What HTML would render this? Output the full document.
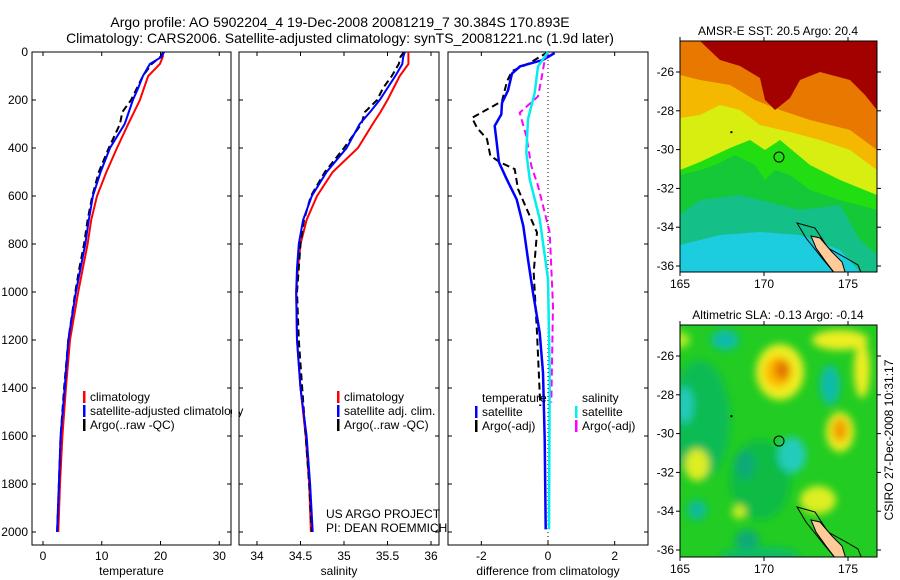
<!DOCTYPE html>
<html><head><meta charset="utf-8"><style>
html,body{margin:0;padding:0;background:#fff;}
svg{display:block;font-family:"Liberation Sans",sans-serif;}
</style></head><body>
<svg id="fig" width="900" height="580" viewBox="0 0 900 580" xmlns="http://www.w3.org/2000/svg">
<defs>
<filter id="blur" x="-30%" y="-30%" width="160%" height="160%"><feGaussianBlur stdDeviation="4"/></filter>
<clipPath id="clipTop"><rect x="680" y="41" width="197" height="231"/></clipPath>
<clipPath id="clipBot"><rect x="680" y="325" width="197" height="232"/></clipPath>
</defs>
<text x="340" y="27" font-size="14" text-anchor="middle">Argo profile: AO 5902204_4 19-Dec-2008 20081219_7 30.384S 170.893E</text>
<text x="340" y="43" font-size="14" text-anchor="middle">Climatology: CARS2006. Satellite-adjusted climatology: synTS_20081221.nc (1.9d later)</text>
<g id="plots"></g>
<text transform="translate(893,440) rotate(-90)" font-size="12" text-anchor="middle">CSIRO 27-Dec-2008 10:31:17</text>
</svg>
<script>
// ---- data ----
const depth = [0,20,50,100,150,200,250,300,400,500,600,700,800,900,1000,1200,1400,1600,1800,2000];
const tempClim = [20.4,20.4,19.9,17.9,17.2,16.5,15.5,14.5,12.6,10.8,9.2,8.2,7.6,6.8,6.0,4.6,3.9,3.3,2.9,2.6];
const tempSat = [20.6,20.2,18.2,17.0,16.2,15.3,14.6,13.9,11.4,9.8,8.5,7.8,7.2,6.4,5.6,4.3,3.7,3.0,2.7,2.4];
const tempArgo = [20.5,20.0,18.5,17.0,16.0,15.0,13.5,13.1,11.2,9.5,8.4,7.6,7.0,6.2,5.5,4.3,3.6,3.0,2.7,2.4];
const salClim = [35.74,35.74,35.74,35.64,35.57,35.5,35.42,35.33,35.16,34.87,34.69,34.57,34.5,34.47,34.45,34.46,34.5,34.56,34.6,34.62];
const salSat = [35.7,35.68,35.67,35.59,35.5,35.41,35.3,35.18,35.03,34.8,34.63,34.53,34.48,34.46,34.45,34.46,34.5,34.57,34.61,34.64];
const salArgo = [35.69,35.65,35.63,35.55,35.45,35.38,35.24,35.2,35.0,34.78,34.62,34.54,34.5,34.48,34.46,34.48,34.52,34.56,34.6,34.63];
const dTempSatDepth = [4,33,60,90,160,212,260,308,363,460,530,614,725,864,1003,1170,1336,1614,1989];
const dTempSat = [0.2,-0.15,-0.84,-1.08,-1.2,-1.38,-1.4,-1.6,-1.55,-1.47,-1.24,-0.94,-0.74,-0.6,-0.45,-0.25,-0.15,-0.1,-0.07];
const dTempArgoDepth = [0,45,80,122,205,274,316,363,432,460,488,571,752,919,1170,1475];
const dTempArgo = [0,-0.54,-1.08,-1.23,-1.38,-2.28,-2.13,-1.83,-1.73,-1.43,-1.0,-0.9,-0.33,-0.43,-0.33,-0.23];
const dSalSatDepth = [0,60,170,280,418,530,696,946,1336,1989];
const dSalSat = [0,-0.3,-0.4,-0.6,-0.65,-0.55,-0.25,0,0.05,0.03];
const dSalArgoDepth = [0,33,115,185,253,350,474,557,752,1058,1461];
const dSalArgo = [0,-0.1,-0.2,-0.3,-0.85,-0.65,-0.5,-0.3,0.05,0.15,0.1];
const depthTicks = [0,200,400,600,800,1000,1200,1400,1600,1800,2000];
const tempTicks = [0,10,20,30];
const salTicks = [34,34.5,35,35.5,36];
const diffTicks = [-2,0,2];
const lonTicks = [165,170,175];
const latTicks = [-26,-28,-30,-32,-34,-36];
const argoLon = 170.893, argoLat = -30.384;

const NS='http://www.w3.org/2000/svg';
const root=document.getElementById('plots');
function mk(tag,attrs,parent){const e=document.createElementNS(NS,tag);for(const k in attrs)e.setAttribute(k,attrs[k]);(parent||root).appendChild(e);return e;}
const yTop=52, yBot=545;
function yD(d){return 52+d*0.24;}
const panels=[
 {x0:32,x1:231,v0:-1.87,v1:32.0,ticks:tempTicks,label:'temperature',name:'temperature'},
 {x0:239,x1:439,v0:33.793,v1:36.092,ticks:salTicks,label:'salinity',name:'salinity'},
 {x0:448,x1:648,v0:-3.0,v1:3.0,ticks:diffTicks,label:'difference from climatology',name:'difference'}
];
function sx(p,v){return p.x0+(v-p.v0)/(p.v1-p.v0)*(p.x1-p.x0);}
function line(p,vals,deps,color,dash,name,w){
  const pts=vals.map((v,i)=>sx(p,v).toFixed(1)+','+yD(deps[i]).toFixed(1)).join(' ');
  const l=mk('polyline',{points:pts,fill:'none',stroke:color,'stroke-width':w||2,'stroke-dasharray':dash||'none'});
  
  
}
panels.forEach((p,pi)=>{
  const g=mk('rect',{x:p.x0,y:yTop,width:p.x1-p.x0,height:yBot-yTop,fill:'#fff',stroke:'#000','stroke-width':1});
  
  
  depthTicks.forEach(d=>{
    const y=yD(d);
    mk('line',{x1:p.x0,x2:p.x0+4,y1:y,y2:y,stroke:'#000'});
    mk('line',{x1:p.x1,x2:p.x1-4,y1:y,y2:y,stroke:'#000'});
    if(pi===0){const t=mk('text',{x:p.x0-4,y:y+4,'font-size':12,'text-anchor':'end'});t.textContent=d;
      
      }
  });
  p.ticks.forEach(v=>{
    const x=sx(p,v);
    mk('line',{x1:x,x2:x,y1:yBot,y2:yBot-4,stroke:'#000'});
    mk('line',{x1:x,x2:x,y1:yTop,y2:yTop+4,stroke:'#000'});
    const t=mk('text',{x:x,y:yBot+15,'font-size':12,'text-anchor':'middle'});t.textContent=v;
    
    
  });
  const lab=mk('text',{x:(p.x0+p.x1)/2,y:yBot+30,'font-size':12,'text-anchor':'middle'});lab.textContent=p.label;
  
  
});
const P=panels;
line(P[0],tempClim,depth,'#f00',null,'temp-climatology-line');
line(P[0],tempArgo,depth,'#000','7,4','temp-argo-line');
line(P[0],tempSat,depth,'#00f',null,'temp-satellite-line');
line(P[1],salClim,depth,'#f00',null,'sal-climatology-line');
line(P[1],salArgo,depth,'#000','7,4','sal-argo-line');
line(P[1],salSat,depth,'#00f',null,'sal-satellite-line');
mk('line',{x1:sx(P[2],0),x2:sx(P[2],0),y1:yTop,y2:yBot,stroke:'#000','stroke-dasharray':'1,3'});
line(P[2],dTempArgo,dTempArgoDepth,'#000','7,4','diff-temp-argo-line');
line(P[2],dTempSat,dTempSatDepth,'#00f',null,'diff-temp-satellite-line',2.5);
line(P[2],dSalArgo,dSalArgoDepth,'#f0f','7,4','diff-sal-argo-line');
line(P[2],dSalSat,dSalSatDepth,'#0ee',null,'diff-sal-satellite-line',2.5);

function legend(x,y,items,name){
  items.forEach((it,i)=>{
    const yy=y+i*14;
    if(it[0]) mk('rect',{x:x,y:yy-6,width:2.5,height:12,fill:it[0]});
    const t=mk('text',{x:x+7,y:yy+4,'font-size':12});t.textContent=it[1];
    
    
  });
}
legend(83,397,[['#f00','climatology'],['#00f','satellite-adjusted climatology'],['#000','Argo(..raw -QC)']],'temp-legend');
mk('rect',{x:232,y:380,width:6.5,height:60,fill:'#fff'});
mk('line',{x1:239,x2:239,y1:380,y2:440,stroke:'#000'});
legend(337,397,[['#f00','climatology'],['#00f','satellite adj. clim.'],['#000','Argo(..raw -QC)']],'sal-legend');
let t=mk('text',{x:326,y:518,'font-size':12});t.textContent='US ARGO PROJECT';


t=mk('text',{x:326,y:532,'font-size':12});t.textContent='PI: DEAN ROEMMICH';


legend(475,398,[[null,'temperature'],['#00f','satellite'],['#000','Argo(-adj)']],'diff-temp-legend');
legend(575,398,[[null,'salinity'],['#0ee','satellite'],['#f0f','Argo(-adj)']],'diff-sal-legend');

// ---- maps ----
function mx(lon){return 680+(lon-165)*16.8;}
function my(lat,top){return top+(-26-lat)*19.4;}
function poly(pts,fill,parent,extra){return mk('polygon',Object.assign({points:pts.map(p=>p.join(',')).join(' '),fill:fill},extra||{}),parent);}
function mapFrame(top,y0,y1,title,name,drawField){
  const g=mk('g',{'clip-path':'url(#'+(top===72?'clipTop':'clipBot')+')'});
  
  
  drawField(g);
  const off=top-72;
  poly([[797,223+off],[815,228+off],[828,248+off],[846,258+off],[858,265+off],[862,275+off],[836,275+off],[822,258+off],[806,238+off]],'none',g,{stroke:'#000','stroke-width':1});
  poly([[811,236+off],[820,238+off],[832,252+off],[842,262+off],[846,275+off],[836,275+off],[826,262+off],[816,248+off]],'#fc9',g,{stroke:'#000','stroke-width':1});
  mk('circle',{cx:mx(argoLon),cy:my(argoLat,top),r:5,fill:'none',stroke:'#000','stroke-width':1},g);
  mk('rect',{x:mx(168),y:my(-29.05,top),width:2,height:2,fill:'#000'},g);
  const b=mk('rect',{x:680,y:y0,width:197,height:y1-y0,fill:'none',stroke:'#000'});
  
  
  lonTicks.forEach(l=>{const x=mx(l);mk('line',{x1:x,x2:x,y1:y1,y2:y1+4,stroke:'#000'});mk('line',{x1:x,x2:x,y1:y0,y2:y0-4,stroke:'#000'});
    const tt=mk('text',{x:x,y:y1+16,'font-size':12,'text-anchor':'middle'});tt.textContent=l;
    
    });
  latTicks.forEach(l=>{const y=my(l,top);mk('line',{x1:680,x2:676,y1:y,y2:y,stroke:'#000'});mk('line',{x1:877,x2:881,y1:y,y2:y,stroke:'#000'});
    const tt=mk('text',{x:674,y:y+4,'font-size':12,'text-anchor':'end'});tt.textContent=l;
    
    });
  const tt=mk('text',{x:778,y:y0-6,'font-size':12,'text-anchor':'middle'});tt.textContent=title;
  
  
}
mapFrame(72,41,272,'AMSR-E SST: 20.5 Argo: 20.4','sst-map',g=>{
  mk('rect',{x:680,y:41,width:197,height:231,fill:'#1ccde0'},g);
  poly([[680,41],[877,41],[877,272],[860,272],[840,250],[800,235],[760,232],[720,235],[700,240],[680,245]],'#14bf88',g);
  poly([[680,41],[877,41],[877,255],[860,240],[840,205],[800,210],[760,200],[740,195],[700,200],[680,215]],'#14c838',g);
  poly([[680,41],[877,41],[877,210],[840,200],[810,190],[790,175],[775,170],[765,180],[755,165],[735,155],[715,165],[700,170],[680,175]],'#22dd11',g);
  poly([[680,41],[877,41],[877,195],[840,180],[810,165],[780,140],[765,150],[750,140],[730,148],[700,162],[680,170]],'#d8ee10',g);
  poly([[680,41],[877,41],[877,170],[850,150],[820,140],[790,132],[760,125],[740,110],[720,105],[700,115],[680,118]],'#f5b800',g);
  poly([[680,41],[877,41],[877,150],[850,130],[810,120],[780,110],[755,100],[730,85],[700,80],[680,75]],'#e87800',g);
  poly([[700,41],[877,41],[877,110],[865,95],[850,80],[820,72],[800,80],[790,98],[775,110],[765,100],[760,78],[740,66],[720,60]],'#a30000',g);
});
mapFrame(356,325,557,'Altimetric SLA: -0.13 Argo: -0.14','sla-map',g=>{
  mk('rect',{x:680,y:325,width:197,height:232,fill:'#22cc22'},g);
  const f=mk('g',{filter:'url(#blur)'},g);
  const blobs=[
   [700,420,30,60,'#11bb55'],[760,480,30,40,'#11bb44'],
   [685,405,8,18,'#22ccbb'],[725,340,14,10,'#11bbaa'],[745,465,10,14,'#11aa77'],
   [792,455,14,18,'#22ccbb'],[830,385,10,20,'#11bbaa'],[697,510,10,10,'#11bb99'],[747,540,12,10,'#11aa77'],
   [760,555,40,8,'#11bb66'],
   [780,372,24,28,'#eeee22'],[840,340,28,10,'#eeee22'],[862,370,8,28,'#eeee22'],
   [778,372,14,16,'#ffbb00'],[782,370,8,10,'#e07800'],
   [840,432,14,20,'#eeee22'],[840,430,8,12,'#f0a000'],
   [697,465,12,16,'#ddee22'],[818,500,18,14,'#ddee22'],[739,512,7,7,'#ccee22'],[680,340,10,8,'#aaee22']
  ];
  blobs.forEach(b=>mk('ellipse',{cx:b[0],cy:b[1],rx:b[2],ry:b[3],fill:b[4]},f));
});
</script>
</body></html>
